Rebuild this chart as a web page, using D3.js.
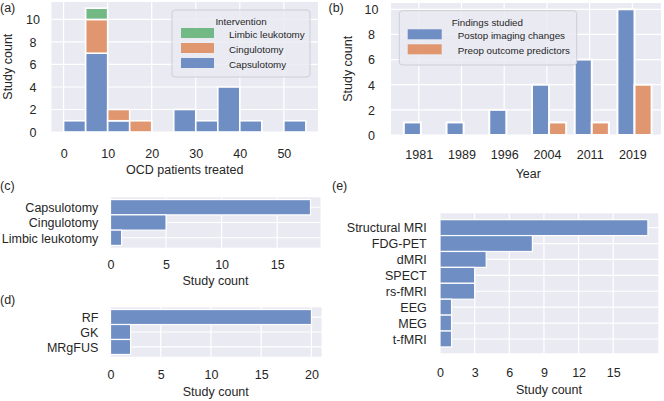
<!DOCTYPE html>
<html><head><meta charset="utf-8">
<script src="https://cdn.jsdelivr.net/npm/d3@7"></script>
<style>
body{margin:0;background:#fff}
text{font-family:"Liberation Sans",Arial,sans-serif;fill:#262626}
</style>
</head><body>
<svg id="chart" width="664" height="401"></svg>
<script>
// ---------- data ----------
const binStarts = [0, 5, 10, 15, 20, 25, 30, 35, 40, 45, 50];
const binWidth = 5;
const capsulotomyCounts = [1, 7, 1, 0, 0, 2, 1, 4, 1, 0, 1];
const cingulotomyCounts = [0, 3, 1, 1, 0, 0, 0, 0, 0, 0, 0];
const limbicCounts      = [0, 1, 0, 0, 0, 0, 0, 0, 0, 0, 0];
const legendA = ["Limbic leukotomy", "Cingulotomy", "Capsulotomy"];

const years = ["1981", "1989", "1996", "2004", "2011", "2019"];
const postopCounts = [1, 1, 2, 4, 6, 10];
const preopCounts  = [0, 0, 0, 1, 1, 4];
const legendB = ["Postop imaging changes", "Preop outcome predictors"];

const interventionNames = ["Capsulotomy", "Cingulotomy", "Limbic leukotomy"];
const interventionTotals = [18, 5, 1];
const modalityNames = ["RF", "GK", "MRgFUS"];
const modalityTotals = [20, 2, 2];
const imagingNames = ["Structural MRI", "FDG-PET", "dMRI", "SPECT", "rs-fMRI", "EEG", "MEG", "t-fMRI"];
const imagingTotals = [18, 8, 4, 3, 3, 1, 1, 1];

const xTicksA = [0, 10, 20, 30, 40, 50];
const yTicksA = [0, 2, 4, 6, 8, 10];
const yTicksB = [0, 2, 4, 6, 8, 10];
const xTicksC = [0, 5, 10, 15];
const xTicksD = [0, 5, 10, 15, 20];
const xTicksE = [0, 3, 6, 9, 12, 15];

// ---------- style ----------
const BLUE = "#6f8ec4", ORANGE = "#e0976f", GREEN = "#72b985", BG = "#eaeaf2";
const FS = 12.5, LFS = 9.8;

const svg = d3.select("#chart");

function background(g, x0, x1, y0, y1) {
  g.append("rect").attr("x", x0).attr("y", Math.min(y0, y1))
    .attr("width", x1 - x0).attr("height", Math.abs(y1 - y0)).attr("fill", BG);
}
function vgrid(g, xs, vals, y0, y1) {
  g.selectAll(null).data(vals).enter().append("line")
    .attr("x1", d => xs(d)).attr("x2", d => xs(d)).attr("y1", y0).attr("y2", y1)
    .attr("stroke", "#fff").attr("stroke-width", 1.2);
}
function hgrid(g, ys, vals, x0, x1) {
  g.selectAll(null).data(vals).enter().append("line")
    .attr("y1", d => ys(d)).attr("y2", d => ys(d)).attr("x1", x0).attr("x2", x1)
    .attr("stroke", "#fff").attr("stroke-width", 1.2);
}
function bottomAxis(xs, vals, yBase, yCenter) {
  const g = svg.append("g").attr("transform", `translate(0,${yBase})`)
    .call(d3.axisBottom(xs).tickValues(vals).tickSize(0).tickFormat(d3.format("d")));
  g.select(".domain").remove();
  g.selectAll("text").attr("y", yCenter - yBase).attr("dy", "0.35em")
    .style("font-size", FS + "px").attr("fill", "#262626");
  return g;
}
function leftAxisCentered(ys, vals, xBase, xCenter) {
  const g = svg.append("g").attr("transform", `translate(${xBase},0)`)
    .call(d3.axisLeft(ys).tickValues(vals).tickSize(0).tickFormat(d3.format("d")));
  g.select(".domain").remove();
  g.selectAll("text").attr("x", xCenter - xBase).attr("dy", "0.35em")
    .attr("text-anchor", "middle").style("font-size", FS + "px").attr("fill", "#262626");
}
function label(x, y, t, rot, anchor) {
  const e = svg.append("text").attr("x", x).attr("y", y).attr("dy", "0.35em")
    .attr("text-anchor", anchor || "middle").style("font-size", FS + "px").text(t);
  if (rot) e.attr("transform", `rotate(-90,${x},${y})`);
  return e;
}

// ---------- panel (a) ----------
{
  const x = d3.scaleLinear().domain([-2.75, 57.75]).range([51.5, 318]);
  const y = d3.scaleLinear().domain([0, 11.55]).range([132, 2]);
  const g = svg.append("g");
  background(g, 51.5, 318, 2, 132);
  vgrid(g, x, xTicksA, 2, 132);
  hgrid(g, y, yTicksA, 51.5, 318);
  const segs = [];
  binStarts.forEach((b, i) => {
    const c = capsulotomyCounts[i], k = cingulotomyCounts[i], l = limbicCounts[i];
    if (c) segs.push({b, lo: 0, hi: c, col: BLUE});
    if (k) segs.push({b, lo: c, hi: c + k, col: ORANGE});
    if (l) segs.push({b, lo: c + k, hi: c + k + l, col: GREEN});
  });
  g.selectAll(null).data(segs).enter().append("rect")
    .attr("x", d => x(d.b)).attr("width", d => x(d.b + binWidth) - x(d.b))
    .attr("y", d => y(d.hi)).attr("height", d => y(d.lo) - y(d.hi))
    .attr("fill", d => d.col).attr("stroke", "#fff").attr("stroke-width", 1.6);
  bottomAxis(x, xTicksA, 132, 153.3);
  leftAxisCentered(y, yTicksA, 51.5, 33);
  label(184.7, 170, "OCD patients treated");
  label(7.5, 66.7, "Study count", true);
  // legend
  const lg = svg.append("g");
  lg.append("rect").attr("x", 172).attr("y", 10).attr("width", 138).attr("height", 67)
    .attr("rx", 3).attr("fill", BG).attr("fill-opacity", 0.85).attr("stroke", "#cdcdd6").attr("stroke-width", 1);
  lg.append("text").attr("x", 241).attr("y", 22).attr("dy", "0.35em").attr("text-anchor", "middle")
    .style("font-size", LFS + "px").text("Intervention");
  const cols = [GREEN, ORANGE, BLUE];
  legendA.forEach((n, i) => {
    lg.append("rect").attr("x", 181).attr("y", 28 + 15 * i).attr("width", 33).attr("height", 10).attr("fill", cols[i]);
    lg.append("text").attr("x", 229).attr("y", 34.5 + 15 * i).attr("dy", "0.35em")
      .style("font-size", LFS + "px").text(n);
  });
}

// ---------- panel (b) ----------
{
  const x = d3.scaleLinear().domain([-0.65, 5.67]).range([391, 661]);
  const y = d3.scaleLinear().domain([0, 10.5]).range([135, 3]);
  const g = svg.append("g");
  background(g, 391, 661, 3, 135);
  vgrid(g, x, d3.range(years.length), 3, 135);
  hgrid(g, y, yTicksB, 391, 661);
  const bars = [];
  years.forEach((yr, i) => {
    if (postopCounts[i]) bars.push({lo: i - 0.35, hi: i + 0.05, v: postopCounts[i], col: BLUE});
    if (preopCounts[i]) bars.push({lo: i + 0.05, hi: i + 0.45, v: preopCounts[i], col: ORANGE});
  });
  g.selectAll(null).data(bars).enter().append("rect")
    .attr("x", d => x(d.lo)).attr("width", d => x(d.hi) - x(d.lo))
    .attr("y", d => y(d.v)).attr("height", d => y(0) - y(d.v))
    .attr("fill", d => d.col).attr("stroke", "#fff").attr("stroke-width", 2);
  const ax = svg.append("g").attr("transform", "translate(0,135)")
    .call(d3.axisBottom(x).tickValues(d3.range(years.length)).tickSize(0).tickFormat(i => years[i]));
  ax.select(".domain").remove();
  ax.selectAll("text").attr("y", 20).attr("dy", "0.35em").style("font-size", FS + "px").attr("fill", "#262626");
  leftAxisCentered(y, yTicksB, 391, 371.5);
  label(528.3, 173.3, "Year");
  label(347.5, 68.8, "Study count", true);
  const lg = svg.append("g");
  lg.append("rect").attr("x", 399.3).attr("y", 10.7).attr("width", 177.4).attr("height", 54.3)
    .attr("rx", 3).attr("fill", BG).attr("fill-opacity", 0.85).attr("stroke", "#cdcdd6").attr("stroke-width", 1);
  lg.append("text").attr("x", 487.3).attr("y", 22.3).attr("dy", "0.35em").attr("text-anchor", "middle")
    .style("font-size", LFS + "px").text("Findings studied");
  const cols = [BLUE, ORANGE];
  legendB.forEach((n, i) => {
    lg.append("rect").attr("x", 407.7).attr("y", 29.3 + 15 * i).attr("width", 34).attr("height", 10).attr("fill", cols[i]);
    lg.append("text").attr("x", 457.7).attr("y", 35.8 + 15 * i).attr("dy", "0.35em")
      .style("font-size", LFS + "px").text(n);
  });
}

// ---------- horizontal bar panels ----------
function hbarPanel(names, vals, xDomMax, xr, yr, ticks, tickY, labX, labY, catX, stroke) {
  const x = d3.scaleLinear().domain([0, xDomMax]).range(xr);
  const n = names.length, m = 0.05 * n;
  const y = d3.scaleLinear().domain([-0.5 - m, n - 0.5 + m]).range(yr);
  const g = svg.append("g");
  background(g, xr[0], xr[1], yr[0], yr[1]);
  vgrid(g, x, ticks, yr[0], yr[1]);
  hgrid(g, y, d3.range(n), xr[0], xr[1]);
  g.selectAll(null).data(vals).enter().append("rect")
    .attr("x", x(0)).attr("width", d => x(d) - x(0))
    .attr("y", (d, i) => y(i - 0.5)).attr("height", (d, i) => y(i + 0.5) - y(i - 0.5))
    .attr("fill", BLUE).attr("stroke", "#fff").attr("stroke-width", stroke);
  bottomAxis(x, ticks, yr[1], tickY);
  const ya = svg.append("g").attr("transform", `translate(${xr[0]},0)`)
    .call(d3.axisLeft(y).tickValues(d3.range(n)).tickSize(0).tickFormat(i => names[i]));
  ya.select(".domain").remove();
  ya.selectAll("text").attr("x", catX - xr[0]).attr("dy", "0.35em").attr("text-anchor", "end")
    .style("font-size", FS + "px").attr("fill", "#262626");
  label(labX, labY, "Study count");
}
hbarPanel(interventionNames, interventionTotals, 18.9, [110.5, 320.5], [197.3, 247.7], xTicksC, 265, 215.5, 280.5, 98.3, 1.2);
hbarPanel(modalityNames, modalityTotals, 21, [110.5, 321.5], [307.3, 356.7], xTicksD, 375, 215.8, 391.7, 98.3, 1.2);
hbarPanel(imagingNames, imagingTotals, 18.9, [440, 658.3], [213.3, 353.3], xTicksE, 372.7, 549, 390, 426.7, 1.2);

// ---------- panel letters ----------
label(0, 7.5, "(a)", false, "start");
label(328.5, 7.5, "(b)", false, "start");
label(0, 186, "(c)", false, "start");
label(0, 300, "(d)", false, "start");
label(332, 186, "(e)", false, "start");
</script>
</body></html>
